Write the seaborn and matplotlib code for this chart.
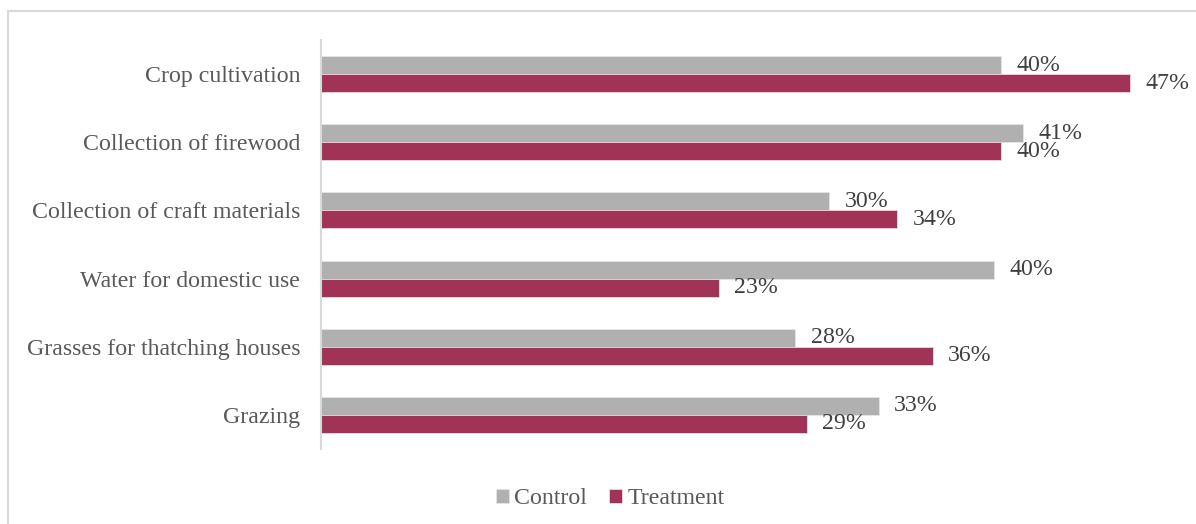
import matplotlib
matplotlib.use("Agg")
import matplotlib.pyplot as plt
import seaborn as sns
import pandas as pd
from matplotlib.patches import Rectangle

categories = ["Crop cultivation", "Collection of firewood", "Collection of craft materials",
              "Water for domestic use", "Grasses for thatching houses", "Grazing"]
control = [40.0, 41.3, 29.9, 39.6, 27.9, 32.8]
treatment = [47.6, 40.0, 33.9, 23.4, 36.0, 28.6]
control_labels = ["40%", "41%", "30%", "40%", "28%", "33%"]
treatment_labels = ["47%", "40%", "34%", "23%", "36%", "29%"]
series = ["Control", "Treatment"]
colors = ["#B0B0B0", "#A03356"]

df = pd.DataFrame({
    "Activity": categories * 2,
    "Value": control + treatment,
    "Group": [series[0]] * len(categories) + [series[1]] * len(categories),
})

sns.set_theme(style="white")
plt.rcParams["font.family"] = ["Liberation Serif", "DejaVu Serif"]

fs = 17.2
fig = plt.figure(figsize=(11.96, 5.24), dpi=100)
ax = fig.add_axes([321 / 1196, 1 - 449 / 524, (1171 - 321) / 1196, (449 - 40) / 524])

sns.barplot(data=df, y="Activity", x="Value", hue="Group", order=categories,
            hue_order=series, palette=colors, orient="h", width=0.53,
            saturation=1, ax=ax, legend=True, edgecolor="#E8E8E8", linewidth=0.5)

for cont, labs in zip(ax.containers, [control_labels, treatment_labels]):
    ax.bar_label(cont, labels=labs, padding=11, fontsize=fs, color="#404040")

ax.set_xlim(0, 50)
ax.set_ylim(5.5, -0.5)
ax.set_xlabel("")
ax.set_ylabel("")
ax.set_xticks([])
ax.tick_params(axis="y", length=0, pad=15, labelsize=fs, labelcolor="#595959")
for s in ["top", "right", "bottom"]:
    ax.spines[s].set_visible(False)
ax.spines["left"].set_color("#D9D9D9")
ax.spines["left"].set_linewidth(1.5)

handles, labels = ax.get_legend_handles_labels()
ax.get_legend().remove()
fig.legend(handles, labels, loc="center", bbox_to_anchor=(610 / 1196, 1 - 499 / 524),
           ncol=2, frameon=False, fontsize=fs, handlelength=0.55, handleheight=0.55,
           handletextpad=0.2, columnspacing=0.95, labelcolor="#595959")

fig.patches.append(Rectangle((8 / 1196, -0.1), 1.2, 1 - 11 / 524 + 0.1, transform=fig.transFigure,
                             fill=False, edgecolor="#D9D9D9", linewidth=1.5, clip_on=False))

fig.savefig("out.png", dpi=100)
